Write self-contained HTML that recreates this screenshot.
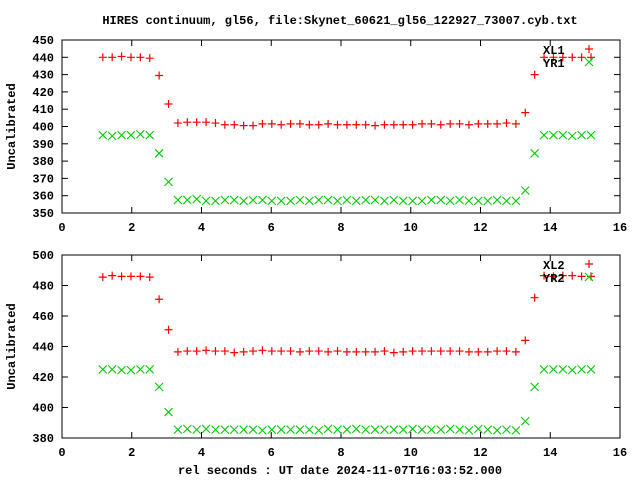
<!DOCTYPE html>
<html><head><meta charset="utf-8"><style>
body{margin:0;background:#fff}
svg{display:block;font-family:"Liberation Mono","DejaVu Sans Mono",monospace;font-size:12px;font-weight:bold}
</style></head><body>
<svg id="c" width="640" height="480" xmlns="http://www.w3.org/2000/svg">
<text x="340" y="24" text-anchor="middle">HIRES continuum, gl56, file:Skynet_60621_gl56_122927_73007.cyb.txt</text>
<text x="340" y="474" text-anchor="middle">rel seconds : UT date 2024-11-07T16:03:52.000</text>
</svg>
<script>
const xTicks=[0,2,4,6,8,10,12,14,16];
const topTicks=[350,360,370,380,390,400,410,420,430,440,450];
const botTicks=[380,400,420,440,460,480,500];
const xStart=1.17, xStep=0.2692;
const xl1=[440,440,440.5,440,440,439.5,429.5,413,402,402.5,402.5,402.5,402,401,401,400.5,400.5,401.5,401.5,401,401.5,401.5,401,401,401.5,401,401,401,401,400.5,401,401,401,401,401.5,401.5,401,401.5,401.5,401,401.5,401.5,401.5,402,401.5,408,430,440,440,440,440,440,440];
const yr1=[395,394.5,395,395,395.5,395,384.5,368,357.5,357.5,358,357,357,357.5,357.5,357,357.5,357.5,357,357,357,357.5,357,357.5,357.5,357,357.5,357,357.5,357.5,357,357.5,357,357,357,357.5,357.5,357,357.5,357,357,357,357.5,357,357,363,384.5,395,395,395,394.5,395,395];
const xl2=[485.5,486.5,486,486,486,485.5,471,451,436.5,437,437,437.5,437,437,436,436.5,437,437.5,437,437,437,436.5,437,437,436.5,437,436.5,436.5,436.5,436.5,437,436,436.5,437,437,437,437,437,437,436.5,436.5,436.5,437,437,436.5,444,472,486.5,486,486.5,486.5,486,486];
const yr2=[425,425,424.5,424.5,425,425,413.5,397,385.5,386,385.5,386,385.5,385.5,385.5,385.5,385.5,385,385.5,385.5,385.5,385.5,385.5,385,386,385.5,385.5,386,385.5,385.5,385.5,385.5,385.5,386,385.5,385.5,385.5,386,385.5,385,386,385.5,385,385.5,385,391,413.5,425,425,425,424.5,425,425];
const NS="http://www.w3.org/2000/svg";
const svg=document.getElementById('c');
function mk(t,a,p){const e=document.createElementNS(NS,t);for(const k in a)e.setAttribute(k,a[k]);(p||svg).appendChild(e);return e;}
function plus(x,y,g){return mk('path',{d:`M${x-4} ${y}h8M${x} ${y-4}v8`,stroke:'#f00','stroke-width':1.2},g);}
function cross(x,y,g){return mk('path',{d:`M${x-4} ${y-4}l8 8M${x-4} ${y+4}l8 -8`,stroke:'#0c0','stroke-width':1.1},g);}
function panel(top,bot,ymin,ymax,ticks,s1,s2,n1,n2,name){
  const L=62,R=620;
  const X=v=>L+(v-0)/(16-0)*(R-L);
  const Y=v=>bot-(v-ymin)/(ymax-ymin)*(bot-top);
  const g=mk('g',{});
  
  
  const fr=mk('rect',{x:L,y:top,width:R-L,height:bot-top,fill:'none',stroke:'#000','stroke-width':1},g);
  
  
  xTicks.forEach(t=>{const x=X(t);
    mk('line',{x1:x,x2:x,y1:bot,y2:bot-6,stroke:'#000'},g);
    mk('line',{x1:x,x2:x,y1:top,y2:top+6,stroke:'#000'},g);
    const tx=mk('text',{x:x,y:bot+18,'text-anchor':'middle'},g);tx.textContent=t;
    
    });
  ticks.forEach(t=>{const y=Y(t);
    mk('line',{x1:L,x2:L+6,y1:y,y2:y,stroke:'#000'},g);
    mk('line',{x1:R,x2:R-6,y1:y,y2:y,stroke:'#000'},g);
    const tx=mk('text',{x:L-8,y:y+4,'text-anchor':'end'},g);tx.textContent=t;
    
    });
  const yt=mk('text',{x:15,y:(top+bot)/2,'text-anchor':'middle',transform:`rotate(-90 15 ${(top+bot)/2})`},g);
  yt.textContent='Uncalibrated';
  
  
  s1.forEach((v,i)=>{const p=plus(X(xStart+i*xStep),Y(v),g);
    
    });
  s2.forEach((v,i)=>{const p=cross(X(xStart+i*xStep),Y(v),g);
    
    });
  const l1=mk('text',{x:543,y:top+14},g);l1.textContent=n1;
  
  
  const k1=plus(589,top+9,g);
  
  
  const l2=mk('text',{x:543,y:top+27},g);l2.textContent=n2;
  
  
  const k2=cross(589,top+22,g);
  
  
}
panel(40,213,350,450,topTicks,xl1,yr1,'XL1','YR1','top-panel');
panel(255,438,380,500,botTicks,xl2,yr2,'XL2','YR2','bottom-panel');
</script>
</body></html>
